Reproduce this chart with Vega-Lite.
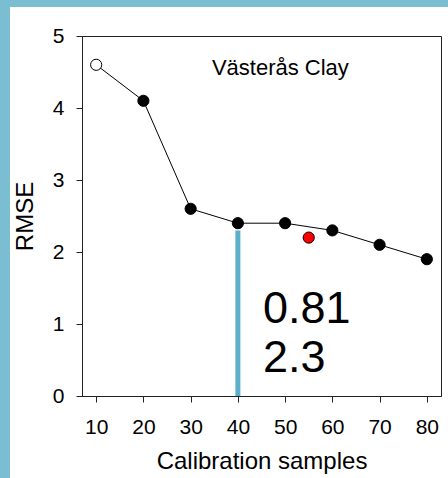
{
  "$schema": "https://vega.github.io/schema/vega-lite/v6.json",
  "background": "white",
  "padding": 0,
  "config": {
    "font": "Liberation Sans",
    "view": {"stroke": null}
  },
  "bounds": "flush",
  "spacing": 0,
  "hconcat": [
    {
      "width": 10,
      "height": 478,
      "view": {"stroke": null},
      "data": {"values": [{}]},
      "mark": {"type": "rect", "color": "#7bbdd1"},
      "encoding": {}
    },
    {
      "bounds": "flush",
      "spacing": 29,
      "vconcat": [
        {
          "width": 438,
          "height": 7,
          "view": {"stroke": null},
          "data": {"values": [{}]},
          "mark": {"type": "rect", "color": "#7bbdd1"},
          "encoding": {}
        },
        {
          "bounds": "flush",
          "spacing": 71,
          "hconcat": [
            {
              "width": 1,
              "height": 1,
              "view": {"stroke": null},
              "data": {"values": [{}]},
              "mark": {"type": "rect", "opacity": 0},
              "encoding": {}
            },
            {
              "width": 359,
              "height": 360,
              "view": {"stroke": "#222", "strokeWidth": 1},
              "data": {
                "values": [
                  {"samples": 10, "rmse": 4.6, "kind": "open"},
                  {"samples": 20, "rmse": 4.1, "kind": "filled"},
                  {"samples": 30, "rmse": 2.6, "kind": "filled"},
                  {"samples": 40, "rmse": 2.4, "kind": "filled"},
                  {"samples": 50, "rmse": 2.4, "kind": "filled"},
                  {"samples": 60, "rmse": 2.3, "kind": "filled"},
                  {"samples": 70, "rmse": 2.1, "kind": "filled"},
                  {"samples": 80, "rmse": 1.9, "kind": "filled"},
                  {"samples": 55, "rmse": 2.2, "kind": "red"}
                ]
              },
              "layer": [
                {
                  "transform": [{"filter": "datum.kind !== 'red'"}],
                  "mark": {"type": "line", "color": "black", "strokeWidth": 1},
                  "encoding": {
                    "x": {
                      "field": "samples",
                      "type": "quantitative",
                      "scale": {"domain": [7, 83], "nice": false, "zero": false},
                      "axis": {
                        "title": "Calibration samples",
                        "values": [10, 20, 30, 40, 50, 60, 70, 80],
                        "format": "d",
                        "grid": false,
                        "tickSize": 6,
                        "labelFontSize": 21,
                        "labelPadding": 14,
                        "titleFontSize": 24,
                        "titleFontWeight": "normal",
                        "titlePadding": 12,
                        "domainColor": "#222",
                        "tickColor": "#222",
                        "labelColor": "black",
                        "titleColor": "black"
                      }
                    },
                    "y": {
                      "field": "rmse",
                      "type": "quantitative",
                      "scale": {"domain": [0, 5], "nice": false},
                      "axis": {
                        "title": "RMSE",
                        "values": [0, 1, 2, 3, 4, 5],
                        "format": "d",
                        "grid": false,
                        "tickSize": 6,
                        "labelFontSize": 21,
                        "labelPadding": 12,
                        "titleFontSize": 24,
                        "titleFontWeight": "normal",
                        "titlePadding": 15,
                        "domainColor": "#222",
                        "tickColor": "#222",
                        "labelColor": "black",
                        "titleColor": "black"
                      }
                    }
                  }
                },
                {
                  "transform": [{"filter": "datum.samples === 40"}],
                  "mark": {"type": "rule", "color": "#5aafca", "strokeWidth": 5},
                  "encoding": {
                    "x": {"field": "samples", "type": "quantitative"},
                    "y": {"datum": 0},
                    "y2": {"datum": 2.3}
                  }
                },
                {
                  "mark": {"type": "point", "shape": "circle", "filled": true, "size": 125, "stroke": "black", "strokeWidth": 1, "opacity": 1},
                  "encoding": {
                    "x": {"field": "samples", "type": "quantitative"},
                    "y": {"field": "rmse", "type": "quantitative"},
                    "fill": {
                      "field": "kind",
                      "type": "nominal",
                      "scale": {"domain": ["open", "filled", "red"], "range": ["white", "black", "red"]},
                      "legend": null
                    }
                  }
                },
                {
                  "data": {"values": [{"label": "Västerås Clay"}]},
                  "mark": {"type": "text", "align": "left", "baseline": "alphabetic", "fontSize": 22, "color": "black"},
                  "encoding": {
                    "x": {"datum": 34.5},
                    "y": {"datum": 4.46},
                    "text": {"field": "label"}
                  }
                },
                {
                  "data": {"values": [{"label": "0.81"}]},
                  "mark": {"type": "text", "align": "left", "baseline": "alphabetic", "fontSize": 45, "color": "black"},
                  "encoding": {
                    "x": {"datum": 45.3},
                    "y": {"datum": 1.01},
                    "text": {"field": "label"}
                  }
                },
                {
                  "data": {"values": [{"label": "2.3"}]},
                  "mark": {"type": "text", "align": "left", "baseline": "alphabetic", "fontSize": 45, "color": "black"},
                  "encoding": {
                    "x": {"datum": 45.3},
                    "y": {"datum": 0.33},
                    "text": {"field": "label"}
                  }
                }
              ]
            }
          ]
        }
      ]
    }
  ]
}
